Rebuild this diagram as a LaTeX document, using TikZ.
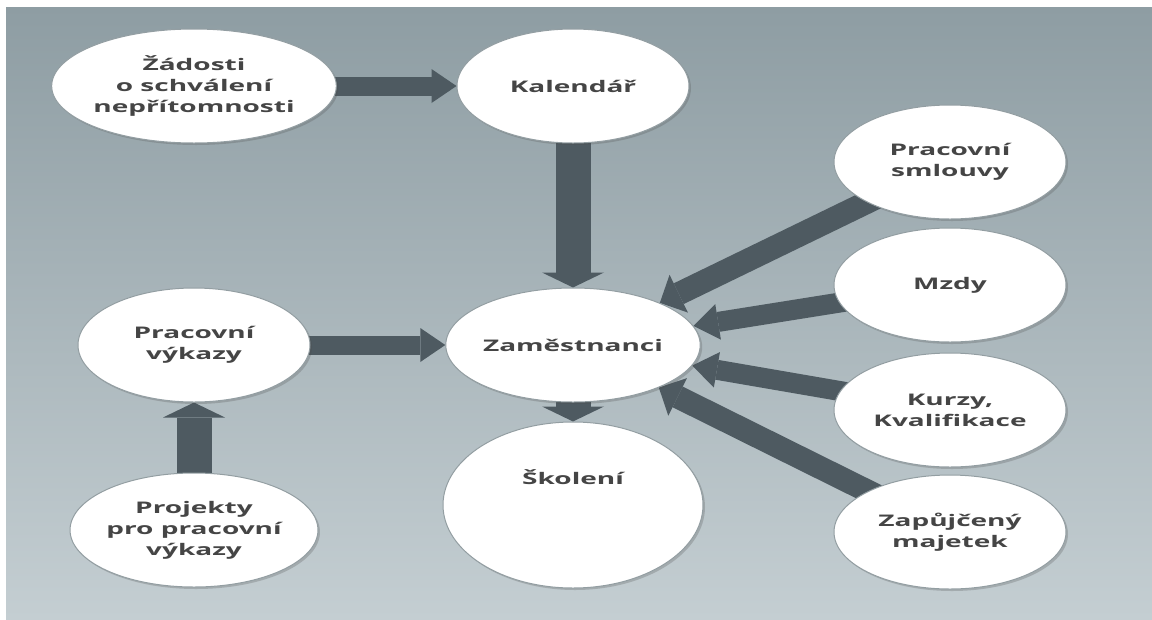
\documentclass[tikz,border=0pt]{standalone}
\usepackage{fontspec}
\newfontfamily\lab{Open Sans}[FakeStretch=1.75]
\usetikzlibrary{arrows.meta,shapes.geometric,shadows}
\pgfdeclarelayer{bg}
\pgfdeclarelayer{mid}
\pgfsetlayers{bg,mid,main}
\definecolor{bgtop}{HTML}{8E9DA3}
\definecolor{bgbot}{HTML}{C4CED2}
\definecolor{arr}{HTML}{4E5A61}
\definecolor{txt}{HTML}{454545}
\definecolor{rim}{HTML}{939EA2}
\tikzset{
  bubble/.style={ellipse, fill=white, draw=rim, line width=1pt,
    minimum width=232pt, minimum height=114pt, inner sep=0pt, align=center,
    text=txt, font=\lab\bfseries\fontsize{16}{21}\selectfont,
    drop shadow={shadow xshift=2pt, shadow yshift=-2pt, opacity=0.25, fill=black!70}},
  bigbubble/.style={bubble, minimum width=260pt, minimum height=166pt},
  harrow/.style={draw=arr, line width=19pt, -{Triangle[length=25pt,width=34pt,line width=0pt 0 0]}},
  varrow/.style={draw=arr, line width=35pt, -{Triangle[length=15pt,width=62pt,line width=0pt 0 0]}},
  darrowa/.style={draw=arr, line width=23pt, -{Triangle[length=21pt,width=42pt,line width=0pt 0 0]}},
  darrowb/.style={draw=arr, line width=20pt, -{Triangle[length=25pt,width=36pt,line width=0pt 0 0]}},
}
\begin{document}
\begin{tikzpicture}[x=1pt,y=-1pt]
\useasboundingbox (0,0) rectangle (1152,619);
\begin{pgfonlayer}{bg}
  \shade[top color=bgtop, bottom color=bgbot] (6,7) rectangle (1152,619);
\end{pgfonlayer}
\node[bubble] (zad)  at (194,86)  {Žádosti\\o schválení\\nepřítomnosti};
\node[bubble] (kal)  at (573,86)  {Kalendář};
\node[bubble] (sml)  at (950,162) {Pracovní\\smlouvy};
\node[bubble] (mzdy) at (950,285) {Mzdy};
\node[bubble] (kur)  at (950,410) {Kurzy,\\Kvalifikace};
\node[bubble] (zap)  at (950,532) {Zapůjčený\\majetek};
\node[bubble] (zam)  at (573,345) {Zaměstnanci};
\node[bigbubble] (skol) at (573,505) {\raisebox{21pt}[0pt][0pt]{Školení}};
\node[bubble] (vyk)  at (194,345) {Pracovní\\výkazy};
\node[bubble] (proj) at (194,530) {Projekty\\pro pracovní\\výkazy};
\begin{pgfonlayer}{mid}
  \draw[harrow] (zad.center) -- (kal);
  \draw[harrow] (vyk.center) -- (zam);
  \draw[varrow] (kal.center) -- (zam);
  \draw[varrow] (zam.center) -- (skol);
  \draw[varrow] (proj.center) -- (vyk);
  \draw[darrowa] (sml.center) -- (zam);
  \draw[darrowb] (mzdy.center) -- (zam);
  \draw[darrowb] (kur.center) -- (zam);
  \draw[darrowa] (zap.center) -- (zam);
\end{pgfonlayer}
\end{tikzpicture}
\end{document}
